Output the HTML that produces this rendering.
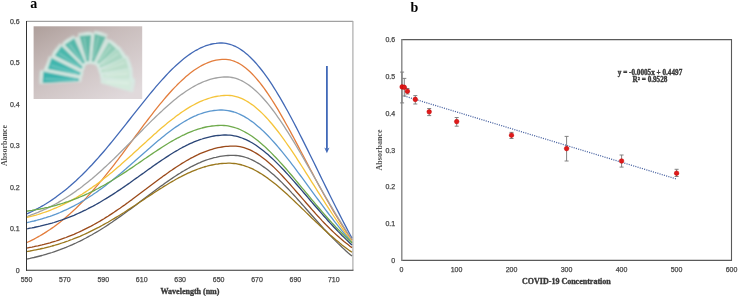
<!DOCTYPE html><html><head><meta charset="utf-8"><style>html,body{margin:0;padding:0;background:#fff;}svg{display:block;will-change:transform;}</style></head><body>
<svg width="738" height="296" viewBox="0 0 738 296">
<rect width="738" height="296" fill="#fff"/>
<defs>
<linearGradient id="bg" x1="0" y1="0" x2="0.8" y2="1"><stop offset="0" stop-color="#ae9f9b"/><stop offset="0.4" stop-color="#c8bcbb"/><stop offset="1" stop-color="#e0d9db"/></linearGradient>
<clipPath id="pa"><rect x="26.5" y="21" width="326.5" height="249"/></clipPath>
<filter id="bl" x="-5%" y="-5%" width="110%" height="110%"><feGaussianBlur stdDeviation="0.9"/></filter>
<clipPath id="ph"><rect x="33.6" y="26.3" width="108.6" height="72.7"/></clipPath>
</defs>
<line x1="26.5" y1="21.3" x2="353" y2="21.3" stroke="#8a8a8a" stroke-width="1"/>
<line x1="352.9" y1="21" x2="352.9" y2="270" stroke="#acacac" stroke-width="1.2"/>
<rect x="33.6" y="26.3" width="108.6" height="72.7" fill="url(#bg)"/>
<g clip-path="url(#ph)"><g filter="url(#bl)">
<polygon points="39.9,71.0 39.1,82.9 48.3,56.7 44.4,68.0 58.8,43.8 51.8,53.6 72.5,35.2 62.5,41.9 90.9,31.4 79.0,32.6 106.9,33.6 95.4,30.4 119.9,47.2 110.9,39.3 126.8,56.8 120.4,46.6 132.2,68.1 128.7,56.6 133.4,80.7 133.0,68.7 133.8,91.5 135.2,79.6 100.8,81.5 100.3,76.0 98.9,72.0 97.6,68.0 96.2,65.2 92.2,63.9 88.1,63.9 85.4,65.2 84.0,69.3 82.7,74.7 81.4,80.1" fill="#d3e8e1" fill-opacity="0.85"/>
<polygon points="39.5,84.2 81.3,81.9 81.5,78.3 40.5,69.8" fill="#d8ece6" fill-opacity="0.75"/>
<polygon points="42.6,83.0 78.8,81.1 79.0,78.7 43.4,71.4" fill="#3ab3ad"/>
<line x1="44.9" y1="78.9" x2="75.9" y2="80.1" stroke="#ffffff" stroke-opacity="0.25" stroke-width="1.6"/>
<polygon points="44.5,69.3 82.1,76.4 83.3,73.0 49.1,55.7" fill="#d8ece6" fill-opacity="0.75"/>
<polygon points="47.8,69.0 79.9,75.0 80.7,72.8 51.5,58.0" fill="#40b6ae"/>
<line x1="51.1" y1="65.5" x2="77.4" y2="73.3" stroke="#ffffff" stroke-opacity="0.25" stroke-width="1.6"/>
<polygon points="51.5,54.9 83.0,70.8 85.0,67.8 59.9,43.1" fill="#d8ece6" fill-opacity="0.75"/>
<polygon points="54.8,55.5 81.3,68.8 82.7,66.9 61.5,46.0" fill="#4ab7ac"/>
<line x1="58.9" y1="53.1" x2="79.3" y2="66.4" stroke="#ffffff" stroke-opacity="0.25" stroke-width="1.6"/>
<polygon points="61.8,43.0 83.9,66.2 86.9,64.2 73.8,35.0" fill="#d8ece6" fill-opacity="0.75"/>
<polygon points="64.7,44.7 83.0,63.8 85.0,62.5 74.3,38.3" fill="#55b8aa"/>
<line x1="69.3" y1="44.0" x2="82.0" y2="60.9" stroke="#ffffff" stroke-opacity="0.25" stroke-width="1.6"/>
<polygon points="77.8,33.2 86.3,64.1 89.9,63.7 92.2,31.8" fill="#d8ece6" fill-opacity="0.75"/>
<polygon points="79.5,36.1 86.7,61.5 89.0,61.3 91.1,34.9" fill="#5db7a5"/>
<line x1="84.0" y1="37.6" x2="87.2" y2="58.5" stroke="#ffffff" stroke-opacity="0.25" stroke-width="1.6"/>
<polygon points="94.1,30.6 90.5,63.4 93.9,64.4 107.9,34.4" fill="#d8ece6" fill-opacity="0.75"/>
<polygon points="94.6,33.8 91.7,61.2 94.0,61.8 105.8,37.0" fill="#69bba7"/>
<line x1="98.2" y1="36.9" x2="93.3" y2="58.5" stroke="#ffffff" stroke-opacity="0.25" stroke-width="1.6"/>
<polygon points="109.7,38.9 94.8,64.0 97.6,66.4 120.5,48.3" fill="#d8ece6" fill-opacity="0.75"/>
<polygon points="108.8,42.0 96.9,62.5 98.7,64.1 117.5,49.7" fill="#90ccb6"/>
<line x1="110.7" y1="46.4" x2="99.5" y2="60.8" stroke="#ffffff" stroke-opacity="0.25" stroke-width="1.6"/>
<polygon points="119.4,45.9 96.6,66.5 98.6,69.5 127.0,58.1" fill="#d8ece6" fill-opacity="0.75"/>
<polygon points="117.6,48.7 99.1,65.7 100.4,67.7 123.7,58.5" fill="#aad7c3"/>
<line x1="118.2" y1="53.4" x2="102.1" y2="64.7" stroke="#ffffff" stroke-opacity="0.25" stroke-width="1.6"/>
<polygon points="127.9,55.6 98.4,70.3 99.4,73.7 132.1,69.4" fill="#d8ece6" fill-opacity="0.75"/>
<polygon points="125.4,57.8 100.9,70.1 101.6,72.4 128.8,68.9" fill="#bcdecb"/>
<line x1="124.8" y1="62.5" x2="104.0" y2="70.0" stroke="#ffffff" stroke-opacity="0.25" stroke-width="1.6"/>
<polygon points="132.4,67.5 100.2,74.2 100.4,77.8 133.0,81.9" fill="#d8ece6" fill-opacity="0.75"/>
<polygon points="129.5,69.0 102.7,74.7 102.8,77.1 129.9,80.6" fill="#cae5d5"/>
<line x1="127.6" y1="73.4" x2="105.8" y2="75.4" stroke="#ffffff" stroke-opacity="0.25" stroke-width="1.6"/>
<polygon points="134.9,78.4 101.0,79.7 100.6,83.3 133.1,92.6" fill="#d8ece6" fill-opacity="0.75"/>
<polygon points="131.7,79.4 103.4,80.6 103.1,83.0 130.3,90.9" fill="#d4eadd"/>
<line x1="129.2" y1="83.4" x2="106.3" y2="81.8" stroke="#ffffff" stroke-opacity="0.25" stroke-width="1.6"/>
</g></g>
<g clip-path="url(#pa)" fill="none" stroke-width="1.3" stroke-linejoin="round">
<path d="M26.0,214.2 L28.0,213.3 L30.0,212.4 L32.0,211.5 L34.0,210.5 L36.0,209.4 L38.0,208.4 L40.0,207.3 L42.0,206.1 L44.0,205.0 L46.0,203.8 L48.0,202.5 L50.0,201.2 L52.0,199.9 L54.0,198.5 L56.0,197.1 L58.0,195.6 L60.0,194.1 L62.0,192.6 L64.0,191.0 L66.0,189.4 L68.0,187.8 L70.0,186.1 L72.0,184.3 L74.0,182.5 L76.0,180.7 L78.0,178.8 L80.0,176.9 L82.0,175.0 L84.0,173.0 L86.0,171.0 L88.0,168.9 L90.0,166.8 L92.0,164.7 L94.0,162.5 L96.0,160.3 L98.0,158.1 L100.0,155.8 L102.0,153.5 L104.0,151.2 L106.0,148.8 L108.0,146.4 L110.0,144.0 L112.0,141.6 L114.0,139.1 L116.0,136.7 L118.0,134.2 L120.0,131.7 L122.0,129.1 L124.0,126.6 L126.0,124.1 L128.0,121.5 L130.0,119.0 L132.0,116.4 L134.0,113.9 L136.0,111.4 L138.0,108.8 L140.0,106.3 L142.0,103.8 L144.0,101.3 L146.0,98.8 L148.0,96.3 L150.0,93.9 L152.0,91.5 L154.0,89.1 L156.0,86.7 L158.0,84.4 L160.0,82.1 L162.0,79.9 L164.0,77.7 L166.0,75.5 L168.0,73.4 L170.0,71.3 L172.0,69.3 L174.0,67.4 L176.0,65.5 L178.0,63.7 L180.0,61.9 L182.0,60.2 L184.0,58.6 L186.0,57.0 L188.0,55.5 L190.0,54.1 L192.0,52.8 L194.0,51.5 L196.0,50.3 L198.0,49.3 L200.0,48.2 L202.0,47.3 L204.0,46.5 L206.0,45.7 L208.0,45.1 L210.0,44.5 L212.0,44.0 L214.0,43.6 L216.0,43.4 L218.0,43.1 L220.0,43.0 L222.0,43.0 L224.0,43.1 L226.0,43.4 L228.0,43.8 L230.0,44.3 L232.0,45.0 L234.0,45.8 L236.0,46.7 L238.0,47.8 L240.0,49.0 L242.0,50.4 L244.0,51.8 L246.0,53.4 L248.0,55.1 L250.0,57.0 L252.0,59.0 L254.0,61.0 L256.0,63.2 L258.0,65.6 L260.0,68.0 L262.0,70.5 L264.0,73.2 L266.0,75.9 L268.0,78.7 L270.0,81.7 L272.0,84.7 L274.0,87.8 L276.0,91.0 L278.0,94.3 L280.0,97.7 L282.0,101.1 L284.0,104.6 L286.0,108.2 L288.0,111.8 L290.0,115.5 L292.0,119.2 L294.0,123.0 L296.0,126.9 L298.0,130.7 L300.0,134.7 L302.0,138.6 L304.0,142.6 L306.0,146.6 L308.0,150.6 L310.0,154.7 L312.0,158.8 L314.0,162.8 L316.0,166.9 L318.0,171.0 L320.0,175.1 L322.0,179.2 L324.0,183.3 L326.0,187.4 L328.0,191.4 L330.0,195.5 L332.0,199.5 L334.0,203.5 L336.0,207.5 L338.0,211.4 L340.0,215.4 L342.0,219.3 L344.0,223.1 L346.0,226.9 L348.0,230.7 L350.0,234.5 L352.0,238.2" stroke="#4269b6"/>
<path d="M26.0,243.0 L28.0,242.0 L30.0,241.1 L32.0,240.1 L34.0,239.1 L36.0,238.0 L38.0,236.9 L40.0,235.8 L42.0,234.6 L44.0,233.4 L46.0,232.1 L48.0,230.8 L50.0,229.5 L52.0,228.1 L54.0,226.7 L56.0,225.2 L58.0,223.7 L60.0,222.2 L62.0,220.6 L64.0,218.9 L66.0,217.2 L68.0,215.5 L70.0,213.8 L72.0,211.9 L74.0,210.1 L76.0,208.2 L78.0,206.2 L80.0,204.3 L82.0,202.2 L84.0,200.2 L86.0,198.1 L88.0,195.9 L90.0,193.7 L92.0,191.5 L94.0,189.2 L96.0,186.9 L98.0,184.6 L100.0,182.2 L102.0,179.8 L104.0,177.4 L106.0,174.9 L108.0,172.4 L110.0,169.9 L112.0,167.3 L114.0,164.8 L116.0,162.2 L118.0,159.6 L120.0,156.9 L122.0,154.3 L124.0,151.6 L126.0,148.9 L128.0,146.2 L130.0,143.6 L132.0,140.9 L134.0,138.2 L136.0,135.5 L138.0,132.8 L140.0,130.1 L142.0,127.4 L144.0,124.7 L146.0,122.1 L148.0,119.5 L150.0,116.8 L152.0,114.3 L154.0,111.7 L156.0,109.2 L158.0,106.7 L160.0,104.2 L162.0,101.8 L164.0,99.4 L166.0,97.0 L168.0,94.7 L170.0,92.5 L172.0,90.3 L174.0,88.1 L176.0,86.1 L178.0,84.0 L180.0,82.1 L182.0,80.2 L184.0,78.4 L186.0,76.6 L188.0,74.9 L190.0,73.3 L192.0,71.8 L194.0,70.3 L196.0,69.0 L198.0,67.7 L200.0,66.5 L202.0,65.4 L204.0,64.4 L206.0,63.5 L208.0,62.6 L210.0,61.9 L212.0,61.2 L214.0,60.7 L216.0,60.2 L218.0,59.8 L220.0,59.6 L222.0,59.4 L224.0,59.3 L226.0,59.4 L228.0,59.6 L230.0,59.9 L232.0,60.5 L234.0,61.1 L236.0,62.0 L238.0,62.9 L240.0,64.0 L242.0,65.3 L244.0,66.7 L246.0,68.3 L248.0,70.0 L250.0,71.8 L252.0,73.8 L254.0,75.9 L256.0,78.1 L258.0,80.5 L260.0,82.9 L262.0,85.5 L264.0,88.2 L266.0,91.0 L268.0,93.9 L270.0,96.9 L272.0,100.0 L274.0,103.2 L276.0,106.4 L278.0,109.7 L280.0,113.1 L282.0,116.6 L284.0,120.1 L286.0,123.7 L288.0,127.3 L290.0,130.9 L292.0,134.6 L294.0,138.3 L296.0,142.1 L298.0,145.9 L300.0,149.7 L302.0,153.5 L304.0,157.3 L306.0,161.1 L308.0,164.9 L310.0,168.7 L312.0,172.4 L314.0,176.2 L316.0,180.0 L318.0,183.7 L320.0,187.4 L322.0,191.0 L324.0,194.7 L326.0,198.2 L328.0,201.8 L330.0,205.3 L332.0,208.7 L334.0,212.1 L336.0,215.5 L338.0,218.7 L340.0,222.0 L342.0,225.1 L344.0,228.2 L346.0,231.3 L348.0,234.3 L350.0,237.2 L352.0,240.0" stroke="#e37d3c"/>
<path d="M26.0,216.7 L28.0,216.1 L30.0,215.4 L32.0,214.6 L34.0,213.9 L36.0,213.1 L38.0,212.3 L40.0,211.4 L42.0,210.6 L44.0,209.7 L46.0,208.8 L48.0,207.8 L50.0,206.8 L52.0,205.8 L54.0,204.8 L56.0,203.7 L58.0,202.6 L60.0,201.4 L62.0,200.2 L64.0,199.0 L66.0,197.8 L68.0,196.5 L70.0,195.2 L72.0,193.9 L74.0,192.5 L76.0,191.1 L78.0,189.6 L80.0,188.2 L82.0,186.7 L84.0,185.1 L86.0,183.5 L88.0,181.9 L90.0,180.3 L92.0,178.7 L94.0,177.0 L96.0,175.3 L98.0,173.5 L100.0,171.7 L102.0,169.9 L104.0,168.1 L106.0,166.3 L108.0,164.4 L110.0,162.5 L112.0,160.6 L114.0,158.7 L116.0,156.7 L118.0,154.8 L120.0,152.8 L122.0,150.8 L124.0,148.8 L126.0,146.8 L128.0,144.7 L130.0,142.7 L132.0,140.7 L134.0,138.6 L136.0,136.6 L138.0,134.5 L140.0,132.5 L142.0,130.5 L144.0,128.4 L146.0,126.4 L148.0,124.4 L150.0,122.4 L152.0,120.4 L154.0,118.5 L156.0,116.5 L158.0,114.6 L160.0,112.7 L162.0,110.9 L164.0,109.0 L166.0,107.2 L168.0,105.4 L170.0,103.7 L172.0,102.0 L174.0,100.3 L176.0,98.7 L178.0,97.1 L180.0,95.6 L182.0,94.1 L184.0,92.7 L186.0,91.3 L188.0,90.0 L190.0,88.7 L192.0,87.5 L194.0,86.4 L196.0,85.3 L198.0,84.2 L200.0,83.3 L202.0,82.4 L204.0,81.5 L206.0,80.8 L208.0,80.1 L210.0,79.4 L212.0,78.9 L214.0,78.4 L216.0,78.0 L218.0,77.6 L220.0,77.3 L222.0,77.1 L224.0,77.0 L226.0,76.9 L228.0,77.0 L230.0,77.2 L232.0,77.5 L234.0,77.9 L236.0,78.4 L238.0,79.1 L240.0,80.0 L242.0,80.9 L244.0,82.0 L246.0,83.2 L248.0,84.5 L250.0,85.9 L252.0,87.5 L254.0,89.2 L256.0,91.0 L258.0,92.9 L260.0,94.9 L262.0,97.0 L264.0,99.2 L266.0,101.5 L268.0,103.9 L270.0,106.4 L272.0,109.0 L274.0,111.7 L276.0,114.4 L278.0,117.3 L280.0,120.2 L282.0,123.1 L284.0,126.2 L286.0,129.3 L288.0,132.4 L290.0,135.6 L292.0,138.9 L294.0,142.1 L296.0,145.5 L298.0,148.8 L300.0,152.2 L302.0,155.7 L304.0,159.1 L306.0,162.6 L308.0,166.1 L310.0,169.6 L312.0,173.1 L314.0,176.6 L316.0,180.1 L318.0,183.6 L320.0,187.1 L322.0,190.6 L324.0,194.0 L326.0,197.5 L328.0,200.9 L330.0,204.3 L332.0,207.7 L334.0,211.0 L336.0,214.4 L338.0,217.6 L340.0,220.9 L342.0,224.1 L344.0,227.3 L346.0,230.4 L348.0,233.5 L350.0,236.5 L352.0,239.5" stroke="#a2a2a2"/>
<path d="M26.0,217.7 L28.0,217.2 L30.0,216.7 L32.0,216.2 L34.0,215.6 L36.0,215.1 L38.0,214.5 L40.0,213.8 L42.0,213.2 L44.0,212.5 L46.0,211.8 L48.0,211.1 L50.0,210.3 L52.0,209.5 L54.0,208.7 L56.0,207.9 L58.0,207.0 L60.0,206.1 L62.0,205.2 L64.0,204.2 L66.0,203.2 L68.0,202.2 L70.0,201.1 L72.0,200.1 L74.0,198.9 L76.0,197.8 L78.0,196.6 L80.0,195.4 L82.0,194.2 L84.0,192.9 L86.0,191.6 L88.0,190.3 L90.0,188.9 L92.0,187.6 L94.0,186.1 L96.0,184.7 L98.0,183.2 L100.0,181.7 L102.0,180.2 L104.0,178.6 L106.0,177.1 L108.0,175.4 L110.0,173.8 L112.0,172.2 L114.0,170.5 L116.0,168.8 L118.0,167.1 L120.0,165.4 L122.0,163.6 L124.0,161.8 L126.0,160.1 L128.0,158.3 L130.0,156.5 L132.0,154.7 L134.0,152.8 L136.0,151.0 L138.0,149.2 L140.0,147.3 L142.0,145.5 L144.0,143.7 L146.0,141.9 L148.0,140.0 L150.0,138.2 L152.0,136.4 L154.0,134.6 L156.0,132.9 L158.0,131.1 L160.0,129.3 L162.0,127.6 L164.0,125.9 L166.0,124.3 L168.0,122.6 L170.0,121.0 L172.0,119.4 L174.0,117.9 L176.0,116.3 L178.0,114.9 L180.0,113.4 L182.0,112.0 L184.0,110.7 L186.0,109.4 L188.0,108.1 L190.0,106.9 L192.0,105.8 L194.0,104.7 L196.0,103.6 L198.0,102.6 L200.0,101.7 L202.0,100.8 L204.0,100.0 L206.0,99.3 L208.0,98.6 L210.0,98.0 L212.0,97.4 L214.0,96.9 L216.0,96.5 L218.0,96.1 L220.0,95.9 L222.0,95.6 L224.0,95.5 L226.0,95.4 L228.0,95.4 L230.0,95.5 L232.0,95.7 L234.0,96.1 L236.0,96.6 L238.0,97.2 L240.0,97.9 L242.0,98.7 L244.0,99.6 L246.0,100.7 L248.0,101.9 L250.0,103.2 L252.0,104.6 L254.0,106.1 L256.0,107.7 L258.0,109.4 L260.0,111.2 L262.0,113.1 L264.0,115.1 L266.0,117.2 L268.0,119.4 L270.0,121.7 L272.0,124.0 L274.0,126.5 L276.0,129.0 L278.0,131.5 L280.0,134.2 L282.0,136.9 L284.0,139.6 L286.0,142.5 L288.0,145.3 L290.0,148.2 L292.0,151.2 L294.0,154.2 L296.0,157.2 L298.0,160.3 L300.0,163.4 L302.0,166.5 L304.0,169.6 L306.0,172.8 L308.0,175.9 L310.0,179.1 L312.0,182.3 L314.0,185.4 L316.0,188.6 L318.0,191.8 L320.0,194.9 L322.0,198.1 L324.0,201.2 L326.0,204.3 L328.0,207.4 L330.0,210.4 L332.0,213.5 L334.0,216.5 L336.0,219.5 L338.0,222.4 L340.0,225.3 L342.0,228.2 L344.0,231.0 L346.0,233.8 L348.0,236.5 L350.0,239.2 L352.0,241.9" stroke="#f5c43a"/>
<path d="M26.0,222.8 L28.0,222.3 L30.0,221.9 L32.0,221.4 L34.0,221.0 L36.0,220.5 L38.0,219.9 L40.0,219.4 L42.0,218.8 L44.0,218.2 L46.0,217.6 L48.0,216.9 L50.0,216.3 L52.0,215.6 L54.0,214.8 L56.0,214.1 L58.0,213.3 L60.0,212.5 L62.0,211.6 L64.0,210.7 L66.0,209.8 L68.0,208.9 L70.0,207.9 L72.0,206.9 L74.0,205.9 L76.0,204.8 L78.0,203.7 L80.0,202.6 L82.0,201.4 L84.0,200.3 L86.0,199.0 L88.0,197.8 L90.0,196.5 L92.0,195.2 L94.0,193.8 L96.0,192.5 L98.0,191.1 L100.0,189.6 L102.0,188.2 L104.0,186.7 L106.0,185.2 L108.0,183.6 L110.0,182.0 L112.0,180.5 L114.0,178.8 L116.0,177.2 L118.0,175.6 L120.0,173.9 L122.0,172.2 L124.0,170.5 L126.0,168.8 L128.0,167.0 L130.0,165.3 L132.0,163.5 L134.0,161.8 L136.0,160.0 L138.0,158.2 L140.0,156.5 L142.0,154.7 L144.0,152.9 L146.0,151.2 L148.0,149.4 L150.0,147.7 L152.0,145.9 L154.0,144.2 L156.0,142.5 L158.0,140.8 L160.0,139.2 L162.0,137.5 L164.0,135.9 L166.0,134.3 L168.0,132.8 L170.0,131.3 L172.0,129.8 L174.0,128.3 L176.0,126.9 L178.0,125.6 L180.0,124.2 L182.0,123.0 L184.0,121.8 L186.0,120.6 L188.0,119.5 L190.0,118.4 L192.0,117.4 L194.0,116.4 L196.0,115.6 L198.0,114.7 L200.0,114.0 L202.0,113.3 L204.0,112.6 L206.0,112.1 L208.0,111.6 L210.0,111.1 L212.0,110.8 L214.0,110.5 L216.0,110.3 L218.0,110.1 L220.0,110.0 L222.0,110.0 L224.0,110.1 L226.0,110.3 L228.0,110.6 L230.0,111.0 L232.0,111.5 L234.0,112.0 L236.0,112.7 L238.0,113.5 L240.0,114.4 L242.0,115.4 L244.0,116.4 L246.0,117.6 L248.0,118.8 L250.0,120.2 L252.0,121.6 L254.0,123.1 L256.0,124.7 L258.0,126.4 L260.0,128.1 L262.0,129.9 L264.0,131.8 L266.0,133.8 L268.0,135.8 L270.0,137.9 L272.0,140.1 L274.0,142.3 L276.0,144.5 L278.0,146.9 L280.0,149.2 L282.0,151.6 L284.0,154.1 L286.0,156.6 L288.0,159.1 L290.0,161.7 L292.0,164.3 L294.0,166.9 L296.0,169.6 L298.0,172.3 L300.0,175.0 L302.0,177.7 L304.0,180.4 L306.0,183.1 L308.0,185.9 L310.0,188.6 L312.0,191.3 L314.0,194.1 L316.0,196.8 L318.0,199.5 L320.0,202.2 L322.0,204.9 L324.0,207.6 L326.0,210.3 L328.0,213.0 L330.0,215.6 L332.0,218.2 L334.0,220.8 L336.0,223.4 L338.0,225.9 L340.0,228.4 L342.0,230.8 L344.0,233.3 L346.0,235.7 L348.0,238.0 L350.0,240.4 L352.0,242.6" stroke="#5c98cf"/>
<path d="M26.0,211.3 L28.0,211.0 L30.0,210.7 L32.0,210.4 L34.0,210.0 L36.0,209.7 L38.0,209.3 L40.0,209.0 L42.0,208.6 L44.0,208.2 L46.0,207.7 L48.0,207.3 L50.0,206.8 L52.0,206.3 L54.0,205.8 L56.0,205.3 L58.0,204.7 L60.0,204.1 L62.0,203.5 L64.0,202.9 L66.0,202.2 L68.0,201.6 L70.0,200.9 L72.0,200.1 L74.0,199.4 L76.0,198.6 L78.0,197.8 L80.0,197.0 L82.0,196.2 L84.0,195.3 L86.0,194.4 L88.0,193.5 L90.0,192.5 L92.0,191.6 L94.0,190.6 L96.0,189.5 L98.0,188.5 L100.0,187.4 L102.0,186.3 L104.0,185.2 L106.0,184.1 L108.0,182.9 L110.0,181.7 L112.0,180.5 L114.0,179.3 L116.0,178.0 L118.0,176.8 L120.0,175.5 L122.0,174.2 L124.0,172.9 L126.0,171.6 L128.0,170.2 L130.0,168.9 L132.0,167.6 L134.0,166.2 L136.0,164.8 L138.0,163.5 L140.0,162.1 L142.0,160.7 L144.0,159.3 L146.0,158.0 L148.0,156.6 L150.0,155.2 L152.0,153.9 L154.0,152.5 L156.0,151.2 L158.0,149.9 L160.0,148.6 L162.0,147.3 L164.0,146.0 L166.0,144.7 L168.0,143.5 L170.0,142.3 L172.0,141.1 L174.0,140.0 L176.0,138.9 L178.0,137.8 L180.0,136.8 L182.0,135.7 L184.0,134.8 L186.0,133.8 L188.0,132.9 L190.0,132.1 L192.0,131.3 L194.0,130.5 L196.0,129.8 L198.0,129.2 L200.0,128.6 L202.0,128.0 L204.0,127.5 L206.0,127.0 L208.0,126.6 L210.0,126.3 L212.0,126.0 L214.0,125.8 L216.0,125.6 L218.0,125.5 L220.0,125.4 L222.0,125.4 L224.0,125.5 L226.0,125.6 L228.0,125.9 L230.0,126.3 L232.0,126.8 L234.0,127.3 L236.0,128.0 L238.0,128.7 L240.0,129.5 L242.0,130.5 L244.0,131.5 L246.0,132.6 L248.0,133.7 L250.0,135.0 L252.0,136.3 L254.0,137.8 L256.0,139.3 L258.0,140.8 L260.0,142.5 L262.0,144.2 L264.0,145.9 L266.0,147.8 L268.0,149.7 L270.0,151.6 L272.0,153.6 L274.0,155.7 L276.0,157.7 L278.0,159.9 L280.0,162.1 L282.0,164.3 L284.0,166.5 L286.0,168.8 L288.0,171.1 L290.0,173.5 L292.0,175.8 L294.0,178.2 L296.0,180.6 L298.0,183.0 L300.0,185.4 L302.0,187.8 L304.0,190.2 L306.0,192.6 L308.0,195.0 L310.0,197.4 L312.0,199.8 L314.0,202.2 L316.0,204.6 L318.0,207.0 L320.0,209.3 L322.0,211.6 L324.0,213.9 L326.0,216.2 L328.0,218.5 L330.0,220.7 L332.0,222.9 L334.0,225.0 L336.0,227.2 L338.0,229.3 L340.0,231.3 L342.0,233.3 L344.0,235.3 L346.0,237.3 L348.0,239.2 L350.0,241.1 L352.0,242.9" stroke="#6eaa4b"/>
<path d="M26.0,228.9 L28.0,228.6 L30.0,228.2 L32.0,227.9 L34.0,227.5 L36.0,227.0 L38.0,226.6 L40.0,226.2 L42.0,225.7 L44.0,225.2 L46.0,224.7 L48.0,224.2 L50.0,223.6 L52.0,223.1 L54.0,222.5 L56.0,221.8 L58.0,221.2 L60.0,220.5 L62.0,219.9 L64.0,219.2 L66.0,218.4 L68.0,217.7 L70.0,216.9 L72.0,216.1 L74.0,215.3 L76.0,214.4 L78.0,213.5 L80.0,212.6 L82.0,211.7 L84.0,210.7 L86.0,209.8 L88.0,208.7 L90.0,207.7 L92.0,206.7 L94.0,205.6 L96.0,204.5 L98.0,203.4 L100.0,202.2 L102.0,201.0 L104.0,199.8 L106.0,198.6 L108.0,197.4 L110.0,196.1 L112.0,194.9 L114.0,193.6 L116.0,192.3 L118.0,190.9 L120.0,189.6 L122.0,188.2 L124.0,186.9 L126.0,185.5 L128.0,184.1 L130.0,182.7 L132.0,181.2 L134.0,179.8 L136.0,178.4 L138.0,177.0 L140.0,175.5 L142.0,174.1 L144.0,172.7 L146.0,171.2 L148.0,169.8 L150.0,168.4 L152.0,166.9 L154.0,165.5 L156.0,164.1 L158.0,162.7 L160.0,161.4 L162.0,160.0 L164.0,158.7 L166.0,157.4 L168.0,156.1 L170.0,154.8 L172.0,153.5 L174.0,152.3 L176.0,151.1 L178.0,150.0 L180.0,148.8 L182.0,147.7 L184.0,146.7 L186.0,145.6 L188.0,144.7 L190.0,143.7 L192.0,142.8 L194.0,141.9 L196.0,141.1 L198.0,140.4 L200.0,139.6 L202.0,139.0 L204.0,138.3 L206.0,137.8 L208.0,137.3 L210.0,136.8 L212.0,136.4 L214.0,136.0 L216.0,135.7 L218.0,135.5 L220.0,135.3 L222.0,135.1 L224.0,135.0 L226.0,135.0 L228.0,135.1 L230.0,135.2 L232.0,135.4 L234.0,135.8 L236.0,136.2 L238.0,136.7 L240.0,137.3 L242.0,138.0 L244.0,138.8 L246.0,139.7 L248.0,140.7 L250.0,141.7 L252.0,142.8 L254.0,144.0 L256.0,145.3 L258.0,146.7 L260.0,148.2 L262.0,149.7 L264.0,151.3 L266.0,152.9 L268.0,154.6 L270.0,156.4 L272.0,158.2 L274.0,160.1 L276.0,162.1 L278.0,164.1 L280.0,166.1 L282.0,168.2 L284.0,170.3 L286.0,172.5 L288.0,174.6 L290.0,176.9 L292.0,179.1 L294.0,181.4 L296.0,183.7 L298.0,186.0 L300.0,188.3 L302.0,190.6 L304.0,193.0 L306.0,195.3 L308.0,197.7 L310.0,200.0 L312.0,202.4 L314.0,204.7 L316.0,207.0 L318.0,209.3 L320.0,211.6 L322.0,213.9 L324.0,216.2 L326.0,218.4 L328.0,220.7 L330.0,222.9 L332.0,225.0 L334.0,227.2 L336.0,229.3 L338.0,231.4 L340.0,233.4 L342.0,235.5 L344.0,237.4 L346.0,239.4 L348.0,241.3 L350.0,243.2 L352.0,245.0" stroke="#2a4577"/>
<path d="M26.0,248.2 L28.0,247.8 L30.0,247.4 L32.0,247.1 L34.0,246.7 L36.0,246.2 L38.0,245.8 L40.0,245.3 L42.0,244.9 L44.0,244.4 L46.0,243.8 L48.0,243.3 L50.0,242.8 L52.0,242.2 L54.0,241.6 L56.0,241.0 L58.0,240.3 L60.0,239.6 L62.0,238.9 L64.0,238.2 L66.0,237.5 L68.0,236.7 L70.0,235.9 L72.0,235.1 L74.0,234.3 L76.0,233.4 L78.0,232.5 L80.0,231.6 L82.0,230.7 L84.0,229.7 L86.0,228.7 L88.0,227.7 L90.0,226.7 L92.0,225.6 L94.0,224.5 L96.0,223.4 L98.0,222.2 L100.0,221.1 L102.0,219.9 L104.0,218.7 L106.0,217.4 L108.0,216.2 L110.0,214.9 L112.0,213.6 L114.0,212.3 L116.0,210.9 L118.0,209.5 L120.0,208.2 L122.0,206.8 L124.0,205.4 L126.0,203.9 L128.0,202.5 L130.0,201.0 L132.0,199.6 L134.0,198.1 L136.0,196.6 L138.0,195.1 L140.0,193.6 L142.0,192.1 L144.0,190.6 L146.0,189.1 L148.0,187.5 L150.0,186.0 L152.0,184.5 L154.0,183.0 L156.0,181.5 L158.0,180.0 L160.0,178.5 L162.0,177.1 L164.0,175.6 L166.0,174.2 L168.0,172.8 L170.0,171.3 L172.0,170.0 L174.0,168.6 L176.0,167.3 L178.0,166.0 L180.0,164.7 L182.0,163.4 L184.0,162.2 L186.0,161.0 L188.0,159.9 L190.0,158.7 L192.0,157.7 L194.0,156.6 L196.0,155.6 L198.0,154.7 L200.0,153.7 L202.0,152.9 L204.0,152.1 L206.0,151.3 L208.0,150.6 L210.0,149.9 L212.0,149.3 L214.0,148.7 L216.0,148.2 L218.0,147.7 L220.0,147.3 L222.0,147.0 L224.0,146.7 L226.0,146.4 L228.0,146.3 L230.0,146.1 L232.0,146.1 L234.0,146.1 L236.0,146.2 L238.0,146.4 L240.0,146.7 L242.0,147.1 L244.0,147.7 L246.0,148.3 L248.0,149.1 L250.0,149.9 L252.0,150.9 L254.0,152.0 L256.0,153.1 L258.0,154.4 L260.0,155.7 L262.0,157.2 L264.0,158.7 L266.0,160.3 L268.0,162.0 L270.0,163.7 L272.0,165.5 L274.0,167.4 L276.0,169.4 L278.0,171.4 L280.0,173.4 L282.0,175.5 L284.0,177.7 L286.0,179.9 L288.0,182.1 L290.0,184.3 L292.0,186.6 L294.0,188.9 L296.0,191.2 L298.0,193.5 L300.0,195.8 L302.0,198.1 L304.0,200.4 L306.0,202.7 L308.0,205.0 L310.0,207.3 L312.0,209.6 L314.0,211.8 L316.0,214.1 L318.0,216.3 L320.0,218.4 L322.0,220.6 L324.0,222.7 L326.0,224.8 L328.0,226.8 L330.0,228.8 L332.0,230.7 L334.0,232.6 L336.0,234.5 L338.0,236.3 L340.0,238.1 L342.0,239.8 L344.0,241.5 L346.0,243.1 L348.0,244.6 L350.0,246.2 L352.0,247.6" stroke="#9b4a1a"/>
<path d="M26.0,259.2 L28.0,258.8 L30.0,258.4 L32.0,257.9 L34.0,257.5 L36.0,257.0 L38.0,256.5 L40.0,256.0 L42.0,255.5 L44.0,254.9 L46.0,254.3 L48.0,253.7 L50.0,253.1 L52.0,252.5 L54.0,251.8 L56.0,251.1 L58.0,250.4 L60.0,249.7 L62.0,248.9 L64.0,248.2 L66.0,247.4 L68.0,246.5 L70.0,245.7 L72.0,244.8 L74.0,243.9 L76.0,243.0 L78.0,242.0 L80.0,241.1 L82.0,240.1 L84.0,239.0 L86.0,238.0 L88.0,236.9 L90.0,235.8 L92.0,234.7 L94.0,233.5 L96.0,232.4 L98.0,231.2 L100.0,230.0 L102.0,228.7 L104.0,227.5 L106.0,226.2 L108.0,224.9 L110.0,223.5 L112.0,222.2 L114.0,220.8 L116.0,219.4 L118.0,218.0 L120.0,216.6 L122.0,215.2 L124.0,213.8 L126.0,212.3 L128.0,210.8 L130.0,209.4 L132.0,207.9 L134.0,206.4 L136.0,204.9 L138.0,203.4 L140.0,201.8 L142.0,200.3 L144.0,198.8 L146.0,197.3 L148.0,195.8 L150.0,194.3 L152.0,192.8 L154.0,191.3 L156.0,189.8 L158.0,188.3 L160.0,186.8 L162.0,185.4 L164.0,183.9 L166.0,182.5 L168.0,181.1 L170.0,179.7 L172.0,178.4 L174.0,177.0 L176.0,175.7 L178.0,174.4 L180.0,173.2 L182.0,171.9 L184.0,170.8 L186.0,169.6 L188.0,168.5 L190.0,167.4 L192.0,166.3 L194.0,165.3 L196.0,164.4 L198.0,163.4 L200.0,162.6 L202.0,161.7 L204.0,160.9 L206.0,160.2 L208.0,159.5 L210.0,158.9 L212.0,158.3 L214.0,157.7 L216.0,157.3 L218.0,156.8 L220.0,156.4 L222.0,156.1 L224.0,155.8 L226.0,155.6 L228.0,155.5 L230.0,155.4 L232.0,155.3 L234.0,155.3 L236.0,155.5 L238.0,155.7 L240.0,156.0 L242.0,156.4 L244.0,156.9 L246.0,157.5 L248.0,158.2 L250.0,159.0 L252.0,159.9 L254.0,160.9 L256.0,162.0 L258.0,163.1 L260.0,164.3 L262.0,165.7 L264.0,167.1 L266.0,168.5 L268.0,170.1 L270.0,171.7 L272.0,173.4 L274.0,175.1 L276.0,176.9 L278.0,178.8 L280.0,180.7 L282.0,182.6 L284.0,184.7 L286.0,186.7 L288.0,188.8 L290.0,190.9 L292.0,193.1 L294.0,195.2 L296.0,197.4 L298.0,199.7 L300.0,201.9 L302.0,204.2 L304.0,206.4 L306.0,208.7 L308.0,211.0 L310.0,213.2 L312.0,215.5 L314.0,217.8 L316.0,220.0 L318.0,222.2 L320.0,224.5 L322.0,226.7 L324.0,228.9 L326.0,231.0 L328.0,233.2 L330.0,235.3 L332.0,237.3 L334.0,239.4 L336.0,241.4 L338.0,243.4 L340.0,245.3 L342.0,247.2 L344.0,249.1 L346.0,250.9 L348.0,252.7 L350.0,254.4 L352.0,256.1" stroke="#646464"/>
<path d="M26.0,251.6 L28.0,251.3 L30.0,251.0 L32.0,250.6 L34.0,250.2 L36.0,249.8 L38.0,249.4 L40.0,249.0 L42.0,248.5 L44.0,248.1 L46.0,247.6 L48.0,247.1 L50.0,246.6 L52.0,246.0 L54.0,245.5 L56.0,244.9 L58.0,244.3 L60.0,243.7 L62.0,243.0 L64.0,242.4 L66.0,241.7 L68.0,241.0 L70.0,240.2 L72.0,239.5 L74.0,238.7 L76.0,237.9 L78.0,237.1 L80.0,236.3 L82.0,235.4 L84.0,234.5 L86.0,233.6 L88.0,232.7 L90.0,231.7 L92.0,230.7 L94.0,229.7 L96.0,228.7 L98.0,227.7 L100.0,226.6 L102.0,225.5 L104.0,224.4 L106.0,223.3 L108.0,222.2 L110.0,221.0 L112.0,219.8 L114.0,218.6 L116.0,217.4 L118.0,216.2 L120.0,215.0 L122.0,213.7 L124.0,212.5 L126.0,211.2 L128.0,209.9 L130.0,208.6 L132.0,207.3 L134.0,206.0 L136.0,204.7 L138.0,203.3 L140.0,202.0 L142.0,200.7 L144.0,199.4 L146.0,198.0 L148.0,196.7 L150.0,195.4 L152.0,194.1 L154.0,192.8 L156.0,191.5 L158.0,190.2 L160.0,188.9 L162.0,187.7 L164.0,186.4 L166.0,185.2 L168.0,184.0 L170.0,182.8 L172.0,181.6 L174.0,180.5 L176.0,179.3 L178.0,178.2 L180.0,177.2 L182.0,176.1 L184.0,175.1 L186.0,174.2 L188.0,173.2 L190.0,172.3 L192.0,171.4 L194.0,170.6 L196.0,169.8 L198.0,169.0 L200.0,168.3 L202.0,167.7 L204.0,167.0 L206.0,166.5 L208.0,165.9 L210.0,165.4 L212.0,165.0 L214.0,164.6 L216.0,164.2 L218.0,164.0 L220.0,163.7 L222.0,163.5 L224.0,163.4 L226.0,163.3 L228.0,163.2 L230.0,163.2 L232.0,163.3 L234.0,163.5 L236.0,163.7 L238.0,164.1 L240.0,164.5 L242.0,165.0 L244.0,165.6 L246.0,166.3 L248.0,167.0 L250.0,167.8 L252.0,168.7 L254.0,169.7 L256.0,170.8 L258.0,171.9 L260.0,173.1 L262.0,174.3 L264.0,175.6 L266.0,177.0 L268.0,178.4 L270.0,179.9 L272.0,181.4 L274.0,183.0 L276.0,184.6 L278.0,186.3 L280.0,188.0 L282.0,189.7 L284.0,191.5 L286.0,193.3 L288.0,195.1 L290.0,197.0 L292.0,198.9 L294.0,200.8 L296.0,202.7 L298.0,204.6 L300.0,206.5 L302.0,208.5 L304.0,210.4 L306.0,212.4 L308.0,214.3 L310.0,216.2 L312.0,218.2 L314.0,220.1 L316.0,222.0 L318.0,223.9 L320.0,225.8 L322.0,227.6 L324.0,229.5 L326.0,231.3 L328.0,233.1 L330.0,234.9 L332.0,236.6 L334.0,238.3 L336.0,240.0 L338.0,241.6 L340.0,243.3 L342.0,244.9 L344.0,246.4 L346.0,247.9 L348.0,249.4 L350.0,250.9 L352.0,252.3" stroke="#9a771c"/>
</g>
<line x1="326.9" y1="66" x2="326.9" y2="149" stroke="#4169b8" stroke-width="1.8"/>
<polygon points="324.3,147.6 326.9,149.3 329.5,147.6 326.9,153.2" fill="#4169b8"/>
<line x1="26.5" y1="21" x2="26.5" y2="270.8" stroke="#333" stroke-width="1.0"/>
<line x1="26" y1="270.3" x2="353.5" y2="270.3" stroke="#333" stroke-width="1.1"/>
<g font-family="Liberation Sans, sans-serif" font-size="7" fill="#474747" stroke="#474747" stroke-width="0.25">
<text x="19.7" y="272.5" text-anchor="end">0</text>
<text x="19.7" y="231.0" text-anchor="end">0.1</text>
<text x="19.7" y="189.5" text-anchor="end">0.2</text>
<text x="19.7" y="148.0" text-anchor="end">0.3</text>
<text x="19.7" y="106.5" text-anchor="end">0.4</text>
<text x="19.7" y="65.0" text-anchor="end">0.5</text>
<text x="19.7" y="23.5" text-anchor="end">0.6</text>
<text x="26.5" y="282" text-anchor="middle">550</text>
<text x="64.9" y="282" text-anchor="middle">570</text>
<text x="103.3" y="282" text-anchor="middle">590</text>
<text x="141.7" y="282" text-anchor="middle">610</text>
<text x="180.1" y="282" text-anchor="middle">630</text>
<text x="218.6" y="282" text-anchor="middle">650</text>
<text x="257.0" y="282" text-anchor="middle">670</text>
<text x="295.4" y="282" text-anchor="middle">690</text>
<text x="333.8" y="282" text-anchor="middle">710</text>
</g>
<g font-family="Liberation Serif, serif" font-weight="bold" fill="#3a3a3a" stroke="#3a3a3a" stroke-width="0.35">
<text x="190" y="294" text-anchor="middle" font-size="8">Wavelength (nm)</text>
<text transform="translate(7.2,145.5) rotate(-90)" text-anchor="middle" font-size="8" stroke="none" fill="#505050">Absorbance</text>
</g>
<text x="30.3" y="7.6" font-family="Liberation Serif, serif" font-weight="bold" font-size="14" fill="#000">a</text>
<path d="M401.5,39.6 H731.5 V260.4 H401.5" fill="none" stroke="#5a5a5a" stroke-width="1.1"/>
<line x1="401.8" y1="39.1" x2="401.8" y2="260.9" stroke="#858585" stroke-width="1.4"/>
<line x1="404.3" y1="96" x2="676.5" y2="179" stroke="#4a64a2" stroke-width="1.25" stroke-dasharray="1.1 1.2"/>
<g stroke="#7c7c7c" stroke-width="0.95">
<line x1="402.1" y1="72.1" x2="402.1" y2="102.9"/>
<line x1="400.1" y1="72.1" x2="404.1" y2="72.1"/>
<line x1="400.1" y1="102.9" x2="404.1" y2="102.9"/>
<line x1="404.3" y1="78.4" x2="404.3" y2="96.0"/>
<line x1="402.3" y1="78.4" x2="406.3" y2="78.4"/>
<line x1="402.3" y1="96.0" x2="406.3" y2="96.0"/>
<line x1="407.4" y1="88.5" x2="407.4" y2="94.0"/>
<line x1="405.4" y1="88.5" x2="409.4" y2="88.5"/>
<line x1="405.4" y1="94.0" x2="409.4" y2="94.0"/>
<line x1="415.3" y1="95.6" x2="415.3" y2="104.0"/>
<line x1="413.3" y1="95.6" x2="417.3" y2="95.6"/>
<line x1="413.3" y1="104.0" x2="417.3" y2="104.0"/>
<line x1="429.2" y1="108.5" x2="429.2" y2="115.6"/>
<line x1="427.2" y1="108.5" x2="431.2" y2="108.5"/>
<line x1="427.2" y1="115.6" x2="431.2" y2="115.6"/>
<line x1="456.7" y1="117.5" x2="456.7" y2="126.2"/>
<line x1="454.7" y1="117.5" x2="458.7" y2="117.5"/>
<line x1="454.7" y1="126.2" x2="458.7" y2="126.2"/>
<line x1="511.5" y1="132.4" x2="511.5" y2="138.5"/>
<line x1="509.5" y1="132.4" x2="513.5" y2="132.4"/>
<line x1="509.5" y1="138.5" x2="513.5" y2="138.5"/>
<line x1="566.6" y1="136.4" x2="566.6" y2="161.0"/>
<line x1="564.6" y1="136.4" x2="568.6" y2="136.4"/>
<line x1="564.6" y1="161.0" x2="568.6" y2="161.0"/>
<line x1="621.6" y1="155.0" x2="621.6" y2="167.1"/>
<line x1="619.6" y1="155.0" x2="623.6" y2="155.0"/>
<line x1="619.6" y1="167.1" x2="623.6" y2="167.1"/>
<line x1="676.6" y1="169.3" x2="676.6" y2="176.5"/>
<line x1="674.6" y1="169.3" x2="678.6" y2="169.3"/>
<line x1="674.6" y1="176.5" x2="678.6" y2="176.5"/>
</g>
<g fill="#e01b1b" stroke="#c00000" stroke-width="0.5">
<circle cx="402.1" cy="86.9" r="2.3"/>
<circle cx="404.3" cy="87.3" r="2.3"/>
<circle cx="407.4" cy="91.2" r="2.3"/>
<circle cx="415.3" cy="99.4" r="2.3"/>
<circle cx="429.2" cy="111.8" r="2.3"/>
<circle cx="456.7" cy="121.6" r="2.3"/>
<circle cx="511.5" cy="135.2" r="2.3"/>
<circle cx="566.6" cy="148.6" r="2.3"/>
<circle cx="621.6" cy="161.0" r="2.3"/>
<circle cx="676.6" cy="173.2" r="2.3"/>
</g>
<g font-family="Liberation Sans, sans-serif" font-size="7" fill="#474747" stroke="#474747" stroke-width="0.25">
<text x="395.2" y="263.0" text-anchor="end">0</text>
<text x="395.2" y="226.2" text-anchor="end">0.1</text>
<text x="395.2" y="189.3" text-anchor="end">0.2</text>
<text x="395.2" y="152.5" text-anchor="end">0.3</text>
<text x="395.2" y="115.7" text-anchor="end">0.4</text>
<text x="395.2" y="78.8" text-anchor="end">0.5</text>
<text x="395.2" y="42.0" text-anchor="end">0.6</text>
<text x="401.5" y="272" text-anchor="middle">0</text>
<text x="456.5" y="272" text-anchor="middle">100</text>
<text x="511.5" y="272" text-anchor="middle">200</text>
<text x="566.5" y="272" text-anchor="middle">300</text>
<text x="621.5" y="272" text-anchor="middle">400</text>
<text x="676.5" y="272" text-anchor="middle">500</text>
<text x="731.5" y="272" text-anchor="middle">600</text>
</g>
<g font-family="Liberation Serif, serif" font-weight="bold" fill="#3a3a3a" stroke="#3a3a3a" stroke-width="0.35">
<text x="566.4" y="284" text-anchor="middle" font-size="8">COVID-19 Concentration</text>
<text transform="translate(381.5,150) rotate(-90)" text-anchor="middle" font-size="8" stroke="none" fill="#505050">Absorbance</text>
<text x="650" y="74.7" text-anchor="middle" font-size="7.2">y = -0.0005x + 0.4497</text>
<text x="650" y="82.3" text-anchor="middle" font-size="7.2">R² = 0.9528</text>
</g>
<text x="410.5" y="11.8" font-family="Liberation Serif, serif" font-weight="bold" font-size="14" fill="#000">b</text>
</svg></body></html>
